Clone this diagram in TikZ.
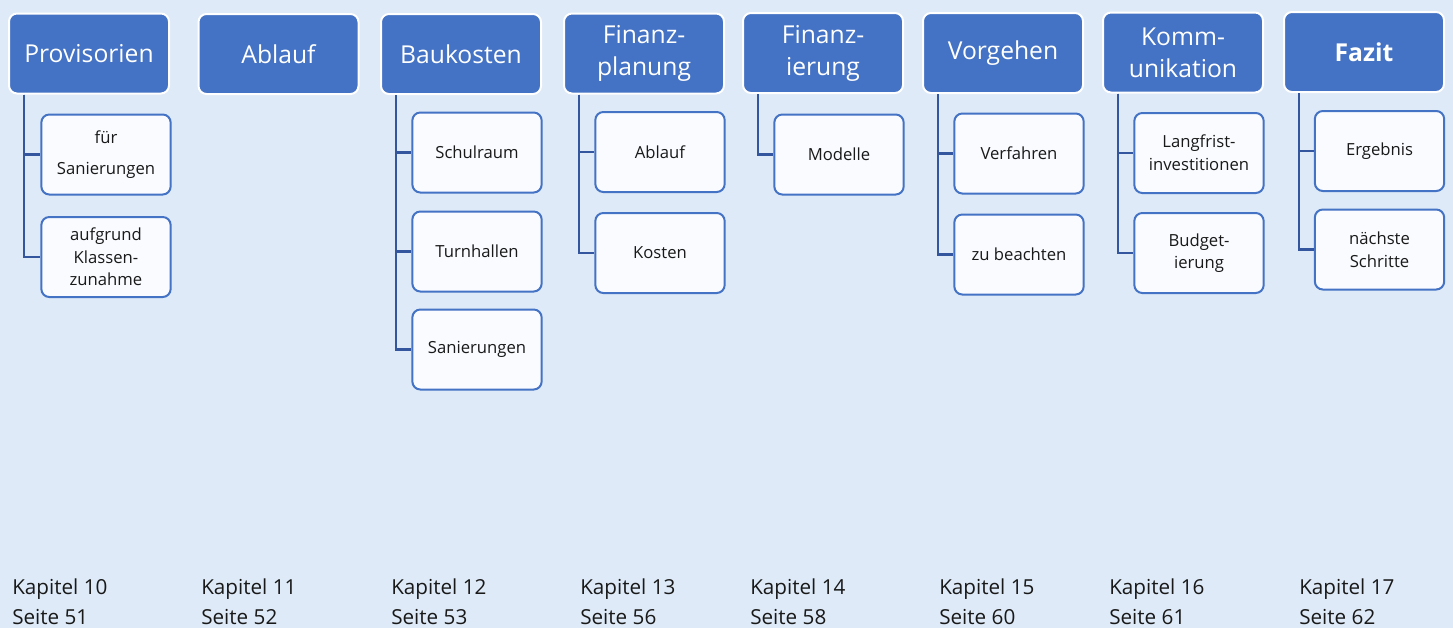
\documentclass[tikz,border=0pt]{standalone}
\usepackage{fontspec}
\setmainfont{Open Sans}
\definecolor{hgrund}{RGB}{222,234,247}
\definecolor{kopfblau}{RGB}{68,114,196}
\definecolor{linienblau}{RGB}{52,86,158}
\definecolor{kastenweiss}{RGB}{249,251,255}
\definecolor{schrift}{RGB}{25,25,25}

\begin{document}
\begin{tikzpicture}[x=0.75pt,y=-0.75pt,
	kopf/.style={draw=white,line width=1.5pt,fill=kopfblau,rounded corners=6pt,minimum width=120pt,minimum height=60pt,text=white,align=center,inner sep=2pt,font=\fontsize{18.5}{24}\selectfont},
	punkt/.style={draw=kopfblau,line width=1.5pt,fill=kastenweiss,rounded corners=6pt,minimum width=97pt,minimum height=60pt,text=schrift,align=center,inner sep=2pt,font=\fontsize{12.5}{17}\selectfont},
	verb/.style={draw=linienblau,line width=2pt},
	info/.style={anchor=base west,text=schrift,inner sep=0pt,font=\fontsize{15.5}{18}\selectfont}]
\fill[hgrund] (0,0) rectangle (1453,628);
\useasboundingbox (0,0) rectangle (1453,628);

% Kapitel
\node[kopf]	(prov)	at (89,53.5)		{Provisorien};
\node[kopf]	(abl)	at (278.5,54)		{Ablauf};
\node[kopf]	(bau)	at (461,54)		{Baukosten};
\node[kopf]	(plan)	at (644,53.5)		{Finanz-\\planung};
\node[kopf]	(fin)	at (823,53)		{Finanz-\\ierung};
\node[kopf]	(vor)	at (1003,53)		{Vorgehen};
\node[kopf]	(kom)	at (1183,52.5)		{Komm-\\unikation};
\node[kopf]	(faz)	at (1364,52)		{\bfseries Fazit};

% Unterpunkte
\node[punkt]	(prov1)	at (106,154.5)		{für\\[6pt]Sanierungen};
\node[punkt]	(prov2)	at (106,257)		{aufgrund\\Klassen-\\zunahme};
\node[punkt]	(bau1)	at (477,152.5)		{Schulraum};
\node[punkt]	(bau2)	at (477,251.5)		{Turnhallen};
\node[punkt]	(bau3)	at (477,349.5)		{Sanierungen};
\node[punkt]	(plan1)	at (660,152)		{Ablauf};
\node[punkt]	(plan2)	at (660,253)		{Kosten};
\node[punkt]	(fin1)	at (839,154.5)		{Modelle};
\node[punkt]	(vor1)	at (1019,153.5)		{Verfahren};
\node[punkt]	(vor2)	at (1019,254.5)		{zu beachten};
\node[punkt]	(kom1)	at (1199,153)		{Langfrist-\\investitionen};
\node[punkt]	(kom2)	at (1199,253)		{Budget-\\ierung};
\node[punkt]	(faz1)	at (1379.5,151)		{Ergebnis};
\node[punkt]	(faz2)	at (1379.5,249.5)	{nächste\\Schritte};

\draw[verb] ([xshift=12pt]prov.south west) |- (prov1);
\draw[verb] ([xshift=12pt]prov.south west) |- (prov2);
\draw[verb] ([xshift=12pt]bau.south west) |- (bau1);
\draw[verb] ([xshift=12pt]bau.south west) |- (bau2);
\draw[verb] ([xshift=12pt]bau.south west) |- (bau3);
\draw[verb] ([xshift=12pt]plan.south west) |- (plan1);
\draw[verb] ([xshift=12pt]plan.south west) |- (plan2);
\draw[verb] ([xshift=12pt]fin.south west) |- (fin1);
\draw[verb] ([xshift=12pt]vor.south west) |- (vor1);
\draw[verb] ([xshift=12pt]vor.south west) |- (vor2);
\draw[verb] ([xshift=12pt]kom.south west) |- (kom1);
\draw[verb] ([xshift=12pt]kom.south west) |- (kom2);
\draw[verb] ([xshift=12pt]faz.south west) |- (faz1);
\draw[verb] ([xshift=12pt]faz.south west) |- (faz2);

% Seitenangaben
\node[info]	(kap10)	at (12,594)	{Kapitel 10};
\node[info]	(s51)	at (12,624)	{Seite 51};
\node[info]	(kap11)	at (201,594)	{Kapitel 11};
\node[info]	(s52)	at (201,624)	{Seite 52};
\node[info]	(kap12)	at (391,594)	{Kapitel 12};
\node[info]	(s53)	at (391,624)	{Seite 53};
\node[info]	(kap13)	at (580,594)	{Kapitel 13};
\node[info]	(s56)	at (580,624)	{Seite 56};
\node[info]	(kap14)	at (750,594)	{Kapitel 14};
\node[info]	(s58)	at (750,624)	{Seite 58};
\node[info]	(kap15)	at (939,594)	{Kapitel 15};
\node[info]	(s60)	at (939,624)	{Seite 60};
\node[info]	(kap16)	at (1109,594)	{Kapitel 16};
\node[info]	(s61)	at (1109,624)	{Seite 61};
\node[info]	(kap17)	at (1299,594)	{Kapitel 17};
\node[info]	(s62)	at (1299,624)	{Seite 62};
\end{tikzpicture}
\end{document}
